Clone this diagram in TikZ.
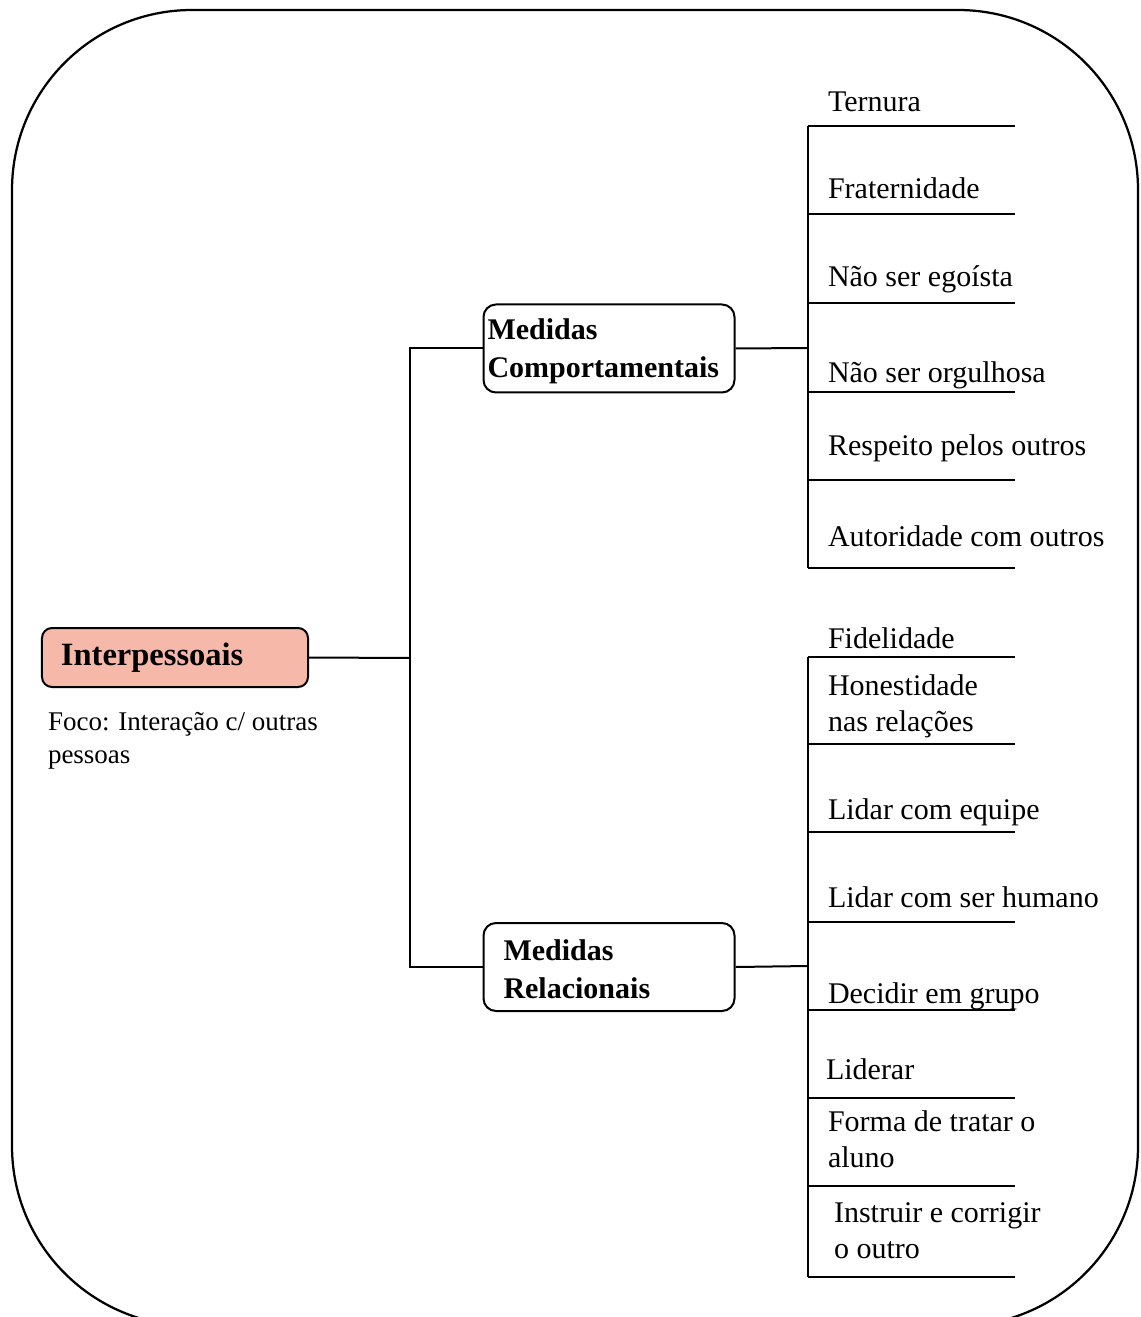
\documentclass[tikz,border=0pt]{standalone}
\usepackage{fontspec}
\setmainfont{Liberation Serif}
\usetikzlibrary{positioning}
\definecolor{salmao}{HTML}{F6B8A8}

\tikzset{
  raiz/.style={draw, fill=salmao, line width=0.8pt, rounded corners=4pt, align=left,
    text width=91.2pt, inner xsep=7.6pt, minimum height=23.6pt,
    font=\bfseries\fontsize{13}{15.6}\selectfont},
  medida/.style={draw, line width=0.8pt, rounded corners=5pt, align=left,
    minimum height=35.2pt, font=\bfseries\fontsize{12}{15.2}\selectfont},
  folha/.style={anchor=base west, inner sep=0pt, align=left,
    font=\fontsize{12}{14.4}\selectfont},
  nota/.style={anchor=base west, inner sep=0pt, align=left,
    font=\fontsize{10.8}{13.2}\selectfont},
  linha/.style={line width=0.8pt},
}

\begin{document}
\begin{tikzpicture}[x=0.4pt, y=-0.4pt, linha]
  \useasboundingbox (0,0) rectangle (1140,1317);
  \clip (0,0) rectangle (1140,1317);
  \draw[line width=0.9pt, rounded corners=72pt] (12,10) rectangle (1138,1326); % moldura

  \node[raiz] (inter) at (175,657.5) {Interpessoais} ; %
  \node[nota] (foco) at (47,763) {Foco: Interação c/ outras\\pessoas} ; % base = 2a linha
  \node[medida, text width=97.2pt, inner xsep=1.6pt] (comp) at (609,348.5) {\rule{0pt}{10.5pt}Medidas\\Comportamentais} ; %
  \node[medida, text width=84.4pt, inner xsep=8pt] (rel) at (609,967) {\rule{0pt}{10.5pt}Medidas\\Relacionais} ; %

  \coordinate (ramo) at (410,658) ;
  \coordinate (eixoC) at (808,348) ;
  \coordinate (eixoR) at (808,966) ;

  \draw (inter.east) -- (ramo) ;
  \draw (comp.west) -| (ramo) |- (rel.west) ;
  \draw (comp.east) -- (eixoC) ;
  \draw (rel.east) -- (eixoR) ;

  % folhas: nome/base (ultima linha)/linha/x/texto
  \foreach \nome/\yb/\yl/\x/\txt in {
      t1/112/126/827/Ternura,
      t2/199/214/827/Fraternidade,
      t3/287/303/827/Não ser egoísta,
      t4/383/392/827/Não ser orgulhosa,
      t5/455/480/827/Respeito pelos outros,
      t6/546/568/827/Autoridade com outros,
      r1/648/657/827/Fidelidade,
      r2/731/744/827/{Honestidade\\nas relações},
      r3/819/832/827/Lidar com equipe,
      r4/907/922/827/Lidar com ser humano,
      r5/1003/1010/827/Decidir em grupo,
      r6/1079/1098/825/Liderar,
      r7/1167/1186/827/{Forma de tratar o\\aluno},
      r8/1258/1277/833/{Instruir e corrigir\\o outro}} {
    \node[folha] (\nome) at (\x,\yb) {\txt} ;
    \coordinate (\nome-l) at (808,\yl) ;
    \coordinate (\nome-r) at (1015,\yl) ;
    \draw (\nome-l) -- (\nome-r) ;
  }

  \draw (t1-l) -- (t6-l) ;
  \draw (r1-l) -- (r8-l) ;
\end{tikzpicture}
\end{document}
